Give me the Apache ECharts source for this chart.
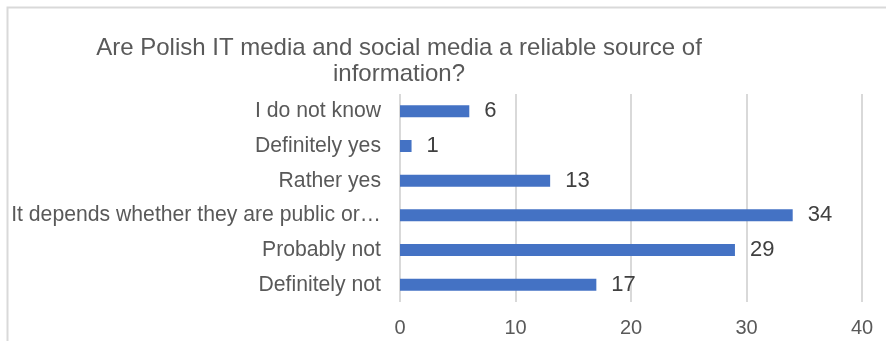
<!DOCTYPE html>
<html><head><meta charset="utf-8">
<script src="https://cdn.jsdelivr.net/npm/echarts@6/dist/echarts.min.js"></script>
<style>html,body{margin:0;padding:0;background:#fff}#c{width:886px;height:341px}</style>
</head><body><div id="c"></div>
<script>
const titleText = 'Are Polish IT media and social media a reliable source of\ninformation?';
const categories = ['Definitely not', 'Probably not', 'It depends whether they are public or…', 'Rather yes', 'Definitely yes', 'I do not know'];
const values = [17, 29, 34, 13, 1, 6];
const xTicks = { min: 0, max: 40, interval: 10 };

const chart = echarts.init(document.getElementById('c'));
chart.setOption({
  animation: false,
  backgroundColor: '#fff',
  graphic: [{
    type: 'rect', left: 5, top: 5,
    shape: { width: 1000, height: 1000 },
    style: { fill: 'none', stroke: '#d9d9d9', lineWidth: 2 }, z: -1
  }],
  title: {
    text: titleText, left: 394, top: 30, textAlign: 'center',
    textStyle: { fontFamily: 'Liberation Sans', fontSize: 24, fontWeight: 'normal', color: '#595959', lineHeight: 26 }
  },
  grid: { left: 400, right: 24, top: 94, bottom: 39, containLabel: false },
  xAxis: {
    type: 'value', min: xTicks.min, max: xTicks.max, interval: xTicks.interval,
    axisLine: { show: false }, axisTick: { show: false },
    splitLine: { show: true, lineStyle: { color: '#d9d9d9', width: 2 } },
    axisLabel: { fontFamily: 'Liberation Sans', fontSize: 20, color: '#595959', margin: 16 }
  },
  yAxis: {
    type: 'category', data: categories,
    axisLine: { show: false }, axisTick: { show: false },
    axisLabel: { fontFamily: 'Liberation Sans', fontSize: 21.2, color: '#595959', margin: 19 }
  },
  series: [{
    type: 'bar', data: values, barWidth: 12,
    itemStyle: { color: '#4472c4' },
    label: { show: true, position: 'right', distance: 15, fontFamily: 'Liberation Sans', fontSize: 22, color: '#404040' }
  }]
});
</script></body></html>
